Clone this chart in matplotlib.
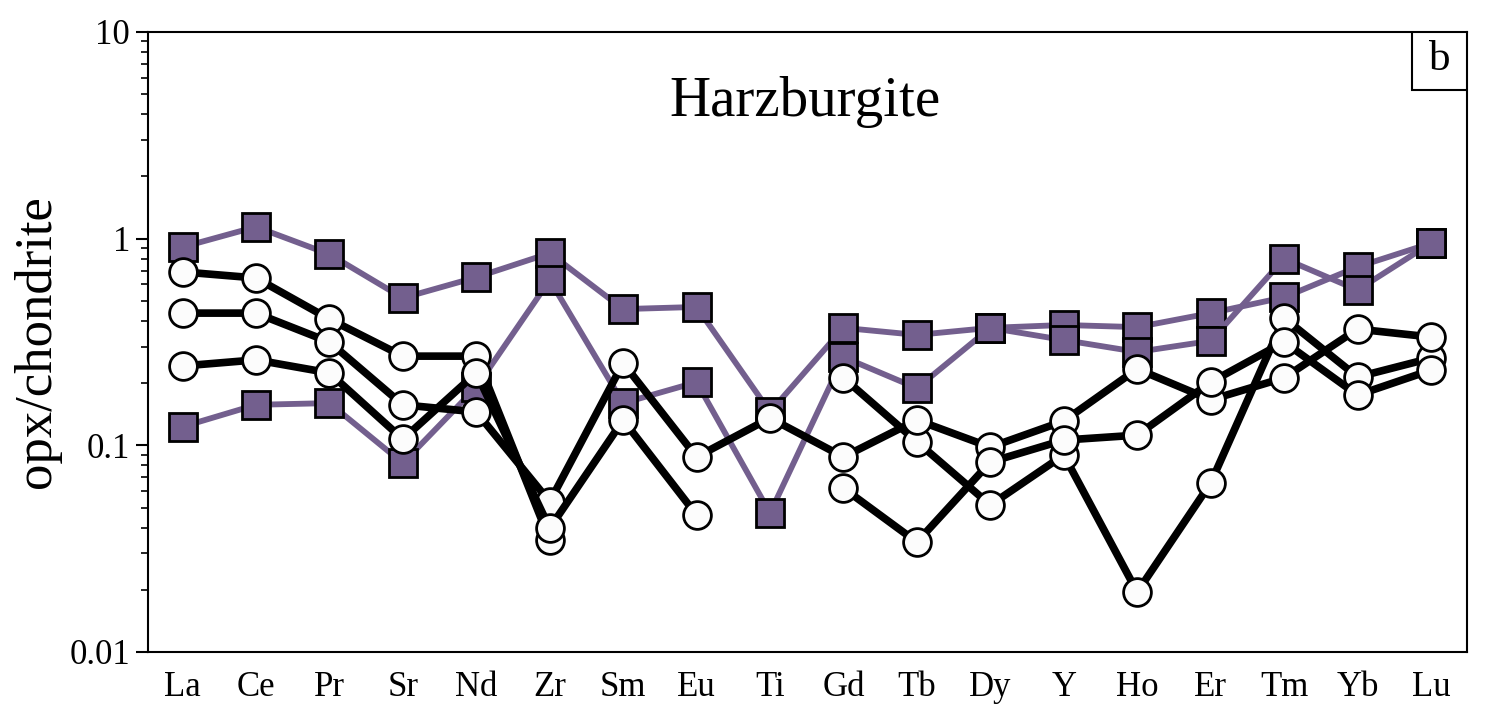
import numpy as np
import matplotlib
matplotlib.use("Agg")
import matplotlib.pyplot as plt
from matplotlib.patches import Rectangle
from matplotlib.ticker import FixedLocator, LogLocator, NullFormatter

nan = np.nan

elements = ['La', 'Ce', 'Pr', 'Sr', 'Nd', 'Zr', 'Sm', 'Eu', 'Ti',
            'Gd', 'Tb', 'Dy', 'Y', 'Ho', 'Er', 'Tm', 'Yb', 'Lu']

# purple squares
purple_a = [0.91, 1.14, 0.84, 0.516, 0.65, 0.85, 0.456, 0.467, 0.145,
            0.37, 0.342, 0.37, 0.382, 0.373, 0.436, 0.52, 0.73, 0.95]
purple_b = [0.123, 0.157, 0.160, 0.082, 0.191, 0.63, 0.160, 0.202, 0.047,
            0.267, 0.189, 0.37, 0.323, 0.283, 0.32, 0.80, 0.564, 0.95]

# black circles
black_1 = [0.69, 0.645, 0.408, 0.27, 0.27, 0.0348, nan, nan, nan,
           0.212, 0.104, 0.0514, 0.0898, 0.0195, 0.0657, 0.413, 0.214, 0.264]
black_2 = [0.436, 0.436, 0.316, 0.157, 0.145, 0.0533, 0.25, 0.0878, 0.1355,
           0.0878, 0.1325, 0.098, 0.131, 0.234, 0.166, 0.212, 0.365, 0.334]
black_3 = [0.242, 0.259, 0.224, 0.107, 0.224, 0.0397, 0.1325, 0.046, nan,
           0.062, 0.034, 0.083, 0.106, 0.112, 0.202, 0.316, 0.175, 0.231]

purple = '#735f8e'
serif = ['Liberation Serif', 'DejaVu Serif']

fig = plt.figure(figsize=(14.86, 7.09), dpi=100)
ax = fig.add_axes([0.0996, 0.0804, 0.8876, 0.8746])

x = np.arange(len(elements))

for s in [purple_a, purple_b]:
    ax.plot(x, s, color=purple, lw=4.2, marker='s', ms=19.5,
            mfc=purple, mec='black', mew=2.0, zorder=2)

for s in [black_1, black_2, black_3]:
    ax.plot(x, s, color='black', lw=5.5, marker='o', ms=20,
            mfc='#fcfcfc', mec='black', mew=2.0, zorder=3)

ax.set_yscale('log')
ax.set_ylim(0.01, 10)
ax.set_xlim(-0.47, 17.49)

ax.yaxis.set_major_locator(FixedLocator([0.01, 0.1, 1, 10]))
ax.set_yticklabels(['0.01', '0.1', '1', '10'])
ax.yaxis.set_minor_locator(LogLocator(base=10, subs=np.arange(2, 10)))
ax.yaxis.set_minor_formatter(NullFormatter())
ax.tick_params(axis='y', which='major', direction='out', length=9, width=1.5, pad=4)
ax.tick_params(axis='y', which='minor', direction='out', length=5, width=1.2)
ax.set_xticks(x)
ax.set_xticklabels(elements)
ax.tick_params(axis='x', length=0, pad=14)

for lab in ax.get_xticklabels() + ax.get_yticklabels():
    lab.set_fontfamily(serif)
    lab.set_fontsize(25)

for sp in ax.spines.values():
    sp.set_linewidth(1.5)

ax.set_ylabel('opx/chondrite', fontsize=38, family=serif, labelpad=6)

ax.text(0.498, 0.887, 'Harzburgite', transform=ax.transAxes, ha='center',
        va='center', fontsize=41, family=serif)

ax.add_patch(Rectangle((0.958, 0.906), 0.042, 0.094, transform=ax.transAxes,
                       facecolor='white', edgecolor='black', lw=1.5, zorder=5))
ax.text(0.979, 0.955, 'b', transform=ax.transAxes, ha='center', va='center',
        fontsize=31, family=serif, zorder=6)

fig.savefig('out.png', dpi=100)
